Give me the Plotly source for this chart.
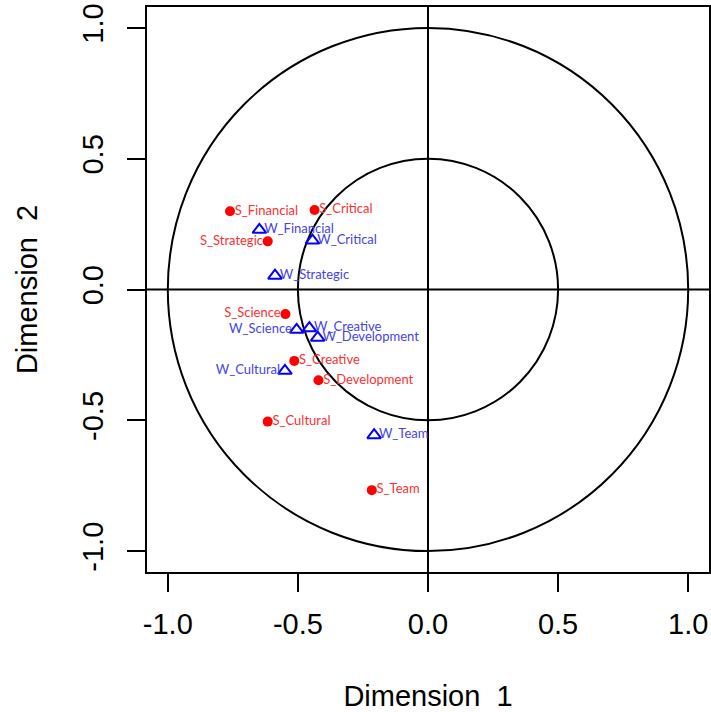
import plotly.graph_objects as go

# ---- data ----
s_labels = ["S_Financial", "S_Critical", "S_Strategic", "S_Science", "S_Creative",
            "S_Development", "S_Cultural", "S_Team"]
s_x = [-0.761, -0.436, -0.616, -0.548, -0.514, -0.421, -0.616, -0.216]
s_y = [0.299, 0.304, 0.184, -0.094, -0.273, -0.347, -0.505, -0.767]
s_pos = ["middle right", "middle right", "middle left", "middle left", "middle right",
         "middle right", "middle right", "middle right"]

w_labels = ["W_Financial", "W_Critical", "W_Strategic", "W_Science", "W_Creative",
            "W_Development", "W_Cultural", "W_Team"]
w_x = [-0.648, -0.444, -0.588, -0.505, -0.456, -0.424, -0.550, -0.207]
w_y = [0.228, 0.187, 0.053, -0.154, -0.148, -0.184, -0.311, -0.557]
w_pos = ["middle right", "middle right", "middle right", "middle left", "middle right",
         "middle right", "middle left", "middle right"]

circle_radii = [1.0, 0.5]
tick_vals = [-1.0, -0.5, 0.0, 0.5, 1.0]
tick_text = ["-1.0", "-0.5", "0.0", "0.5", "1.0"]
axis_range = [-1.08, 1.08]

x_title = "Dimension\u00a0 1"
y_title = "Dimension\u00a0 2"

label_font = "Lato"
axis_font = "Liberation Sans"
RED_TXT = "#ff3030"
BLUE_TXT = "#4444ee"

fig = go.Figure()

# point markers
fig.add_trace(go.Scatter(
    x=s_x, y=s_y, mode="markers",
    marker=dict(symbol="circle", size=10, color="#ff0000"),
    showlegend=False, cliponaxis=False, hoverinfo="skip",
))
fig.add_trace(go.Scatter(
    x=w_x, y=w_y, mode="markers",
    marker=dict(symbol="triangle-up-open", size=12, color="#0000ff",
                line=dict(width=2, color="#0000ff")),
    showlegend=False, cliponaxis=False, hoverinfo="skip",
))
# labels (invisible small marker controls label offset)
fig.add_trace(go.Scatter(
    x=s_x, y=s_y, mode="markers+text", text=s_labels, textposition=s_pos,
    marker=dict(size=6, color="rgba(0,0,0,0)"),
    textfont=dict(family=label_font, size=13, color=RED_TXT),
    showlegend=False, cliponaxis=False,
))
fig.add_trace(go.Scatter(
    x=w_x, y=w_y, mode="markers+text", text=w_labels, textposition=w_pos,
    marker=dict(size=6, color="rgba(0,0,0,0)"),
    textfont=dict(family=label_font, size=13, color=BLUE_TXT),
    showlegend=False, cliponaxis=False,
))

shapes = []
for r in circle_radii:
    shapes.append(dict(type="circle", xref="x", yref="y", x0=-r, y0=-r, x1=r, y1=r,
                       line=dict(color="black", width=2), layer="below"))
shapes.append(dict(type="line", xref="x", yref="paper", x0=0, x1=0, y0=0, y1=1,
                   line=dict(color="black", width=2), layer="below"))
shapes.append(dict(type="line", xref="paper", yref="y", x0=0, x1=1, y0=0, y1=0,
                   line=dict(color="black", width=2), layer="below"))

axis_common = dict(
    range=axis_range, tickvals=tick_vals, ticktext=tick_text,
    showgrid=False, zeroline=False, showline=True, mirror=True,
    linecolor="black", linewidth=2, ticks="outside", ticklen=18, tickwidth=2,
    tickcolor="black", tickfont=dict(family=axis_font, size=29, color="black"),
    automargin=False,
)

fig.update_layout(
    width=711, height=712,
    margin=dict(l=147, r=2, t=7, b=140),
    plot_bgcolor="white", paper_bgcolor="white",
    shapes=shapes,
    xaxis=dict(**axis_common, ticklabelstandoff=7,
               title=dict(text=x_title, font=dict(family=axis_font, size=29, color="black"),
                          standoff=52)),
    yaxis=dict(**axis_common, tickangle=-90, ticklabelstandoff=12,
               title=dict(text=y_title, font=dict(family=axis_font, size=29, color="black"),
                          standoff=31)),
)

fig.write_html(
    "out.html",
    config={"displayModeBar": False},
    post_script="document.body.style.margin='0';document.body.style.overflow='hidden';",
)
